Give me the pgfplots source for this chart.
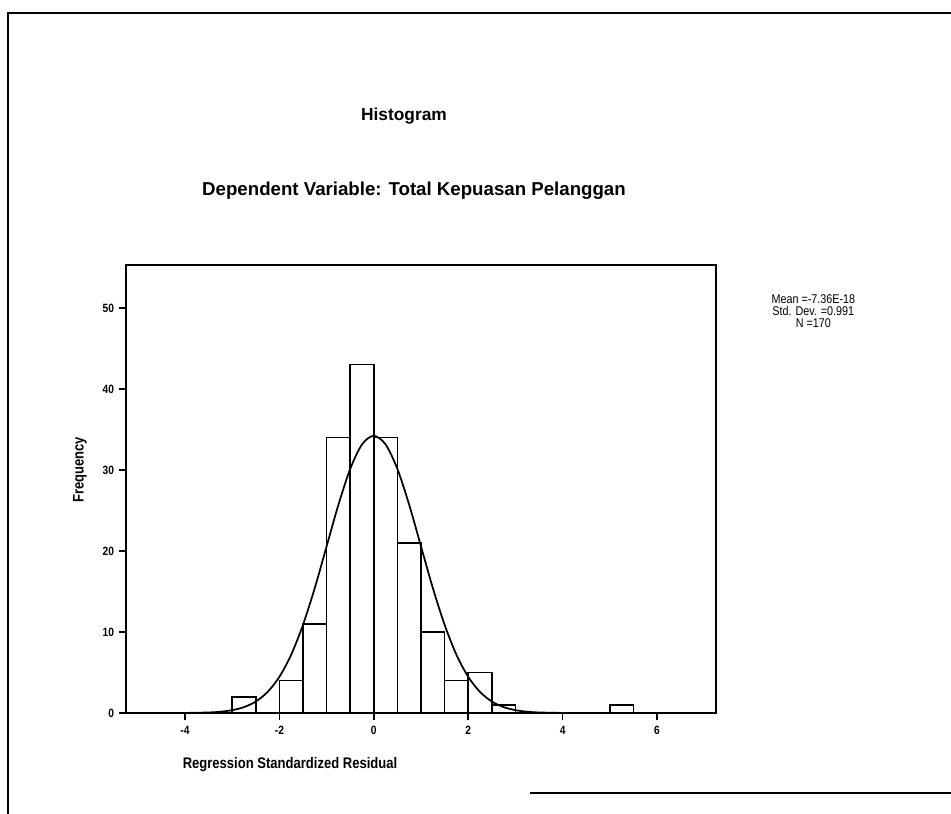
\documentclass[border=0pt]{standalone}
\usepackage{fontspec}
\setmainfont{Liberation Sans}
\newfontfamily\narrowf[FakeStretch=0.85]{Liberation Sans}
\usepackage{pgfplots}
\pgfplotsset{compat=1.18}
\begin{document}
\begin{tikzpicture}
% outer frame of the SPSS output
\draw[line width=1.2pt] (6pt,-610.5pt) -- (6pt,-9.75pt) -- (713.25pt,-9.75pt);
\draw[line width=1.2pt] (397.5pt,-594.75pt) -- (713.25pt,-594.75pt);
% titles
\node[font=\bfseries\fontsize{13}{15}\selectfont] at (303pt,-87pt) {Histogram};
\node[font=\bfseries\fontsize{14}{16}\selectfont] at (310.5pt,-143pt) {Dependent Variable: Total Kepuasan Pelanggan};
\begin{axis}[
  at={(94.5pt,-534.75pt)}, anchor=south west,
  scale only axis, width=442.5pt, height=336pt,
  xmin=-5.25, xmax=7.25, ymin=0, ymax=55.3,
  xtick={-4,-2,0,2,4,6}, xticklabels={-4,-2,0,2,4,6},
  ytick={0,10,20,30,40,50}, yticklabels={0,10,20,30,40,50},
  xtick pos=left, ytick pos=left, tick align=outside,
  major tick length=5.5pt,
  axis line style={line width=1.3pt},
  every tick/.style={line width=1.2pt, black},
  tick label style={font=\narrowf\bfseries\fontsize{9}{10}\selectfont},
  xticklabel style={yshift=-1pt},
  clip=false,
]
\addplot[ybar interval, fill=white, draw=black, line width=1.1pt] coordinates {
(-5,0) (-4.5,0) (-4,0) (-3.5,0) (-3,2) (-2.5,0) (-2,4) (-1.5,11) (-1,34) (-0.5,43)
(0,34) (0.5,21) (1,10) (1.5,4) (2,5) (2.5,1) (3,0) (3.5,0) (4,0) (4.5,0) (5,1) (5.5,0) (6,0) (6.5,0) (7,0)};
\addplot[smooth, line width=1.3pt, black, no marks] coordinates {
(-5.25,0) (-4.5,0.001) (-4,0.01) (-3.5,0.067) (-3.25,0.158) (-3,0.350) (-2.75,0.728) (-2.5,1.42) (-2.25,2.60)
(-2,4.47) (-1.75,7.20) (-1.5,10.89) (-1.25,15.44) (-1,20.57) (-0.75,25.70) (-0.5,30.13) (-0.25,33.15)
(0,34.22) (0.25,33.15) (0.5,30.13) (0.75,25.70) (1,20.57) (1.25,15.44) (1.5,10.89) (1.75,7.20) (2,4.47)
(2.25,2.60) (2.5,1.42) (2.75,0.728) (3,0.350) (3.25,0.158) (3.5,0.067) (4,0.01) (4.5,0.001) (5.25,0) (7.25,0)};
\end{axis}
% axis labels
\node[font=\narrowf\bfseries\fontsize{11.5}{13}\selectfont] at (217.5pt,-573.75pt) {Regression Standardized Residual};
\node[font=\narrowf\bfseries\fontsize{11.5}{13}\selectfont, rotate=90] at (60pt,-352.5pt) {Frequency};
% annotation
\node[font=\narrowf\fontsize{9.5}{9}\selectfont, align=center] at (610pt,-233pt) {Mean =-7.36E-18\\Std. Dev. =0.991\\N =170};
\pgfresetboundingbox
\path[use as bounding box] (0,0) rectangle (713.25pt,-610.5pt);
\end{tikzpicture}
\end{document}
